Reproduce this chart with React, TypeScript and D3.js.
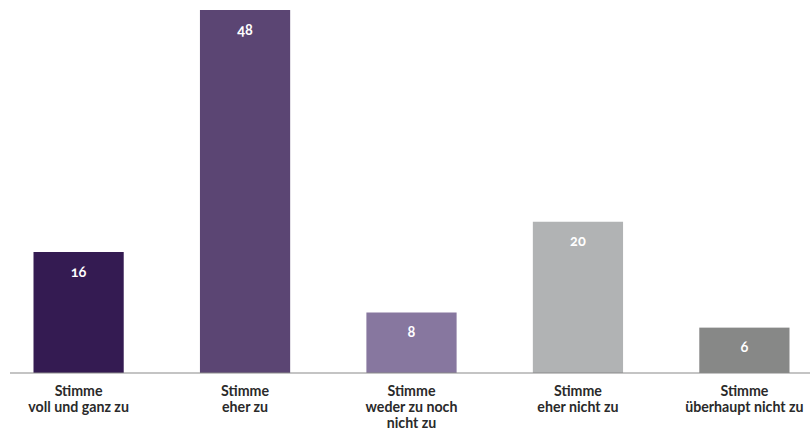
import React from "react";
import * as d3 from "d3";

const categories: string[][] = [
  ["Stimme", "voll und ganz zu"],
  ["Stimme", "eher zu"],
  ["Stimme", "weder zu noch", "nicht zu"],
  ["Stimme", "eher nicht zu"],
  ["Stimme", "überhaupt nicht zu"],
];
const values: number[] = [16, 48, 8, 20, 6];
const colors: string[] = ["#341b52", "#5b4573", "#87779f", "#b1b3b4", "#878887"];

const W = 810;
const H = 437;
const baseline = 373;

export default function App() {
  const x = d3
    .scaleBand<number>()
    .domain(values.map((_, i) => i))
    .range([33.5, 789.5])
    .paddingInner(0.458)
    .paddingOuter(0);
  const y = d3.scaleLinear().domain([0, 48]).range([baseline, 10]);
  const font = "Lato, 'Open Sans', sans-serif";

  return (
    <svg
      width={W}
      height={H}
      style={{ position: "absolute", left: 0, top: 0, background: "#fff" }}
      fontFamily={font}
    >
      {values.map((v, i) => (
        <g key={i}>
          <rect
            x={x(i)}
            y={y(v)}
            width={x.bandwidth()}
            height={baseline - y(v)}
            fill={colors[i]}
          />
          <text
            x={(x(i) as number) + x.bandwidth() / 2}
            y={y(v) + 24.5}
            textAnchor="middle"
            fill="#fff"
            fontWeight="bold"
            fontSize={14.5}
            style={{ fontVariantNumeric: "oldstyle-nums" }}
          >
            {v}
          </text>
        </g>
      ))}
      <line x1={10} x2={810} y1={baseline} y2={baseline} stroke="#8a8a8a" strokeWidth={1.2} />
      {categories.map((lines, i) =>
        lines.map((l, j) => (
          <text
            key={`${i}-${j}`}
            x={(x(i) as number) + x.bandwidth() / 2}
            y={395.5 + j * 16}
            textAnchor="middle"
            fill="#2a2a2a"
            fontWeight="bold"
            fontSize={14.2}
          >
            {l}
          </text>
        ))
      )}
    </svg>
  );
}
